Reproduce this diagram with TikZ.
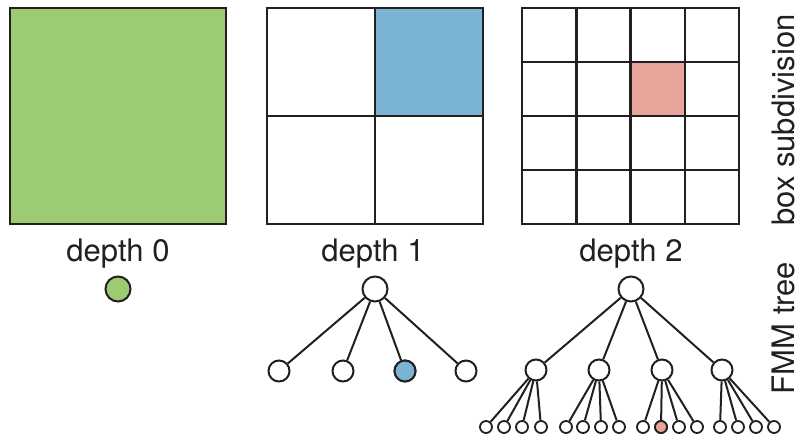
\documentclass[tikz,border=0pt]{standalone}
\usepackage{fontspec}
\setmainfont{TeX Gyre Heros}
\definecolor{ink}{HTML}{231F20}
\definecolor{boxgreen}{HTML}{9CCB72}
\definecolor{boxblue}{HTML}{7AB3D3}
\definecolor{boxpink}{HTML}{E6A49A}
\tikzset{
  gridline/.style={draw=ink, line width=2.5pt},
  treenode/.style={circle, draw=ink, fill=white, inner sep=0pt},
  rootnode/.style={treenode, line width=2pt, minimum size=25pt},
  midnode/.style={treenode, line width=2pt, minimum size=21pt},
  leafnode/.style={treenode, line width=1.8pt, minimum size=12pt},
  link/.style={draw=ink, line width=2pt},
  depthtext/.style={font=\fontsize{31}{36}\selectfont, text=ink, inner sep=0pt, anchor=base},
  sidetext/.style={depthtext, rotate=90, text depth=0pt},
}
\begin{document}
\begin{tikzpicture}[x=1pt, y=-1pt]
\useasboundingbox (0,0) rectangle (801,436);

% depth 0: the whole domain
\fill[boxgreen] (10,8) rectangle (226,224);
\draw[gridline] (10,8) rectangle (226,224);

% depth 1: four children
\fill[boxblue] (375,8) rectangle (483,116);
\draw[gridline] (267,8) rectangle (483,224);
\draw[gridline] (375,8) -- (375,224) (267,116) -- (483,116);

% depth 2: sixteen grandchildren
\fill[boxpink] (630.5,62) rectangle (684.75,116);
\draw[gridline] (522,8) rectangle (739,224);
\foreach \i in {1,2,3} {
  \draw[gridline] ({522+54.25*\i},8) -- ({522+54.25*\i},224);
  \draw[gridline] (522,{8+54*\i}) -- (739,{8+54*\i});
}

% level captions
\node[depthtext] (cap0) at (118,261) {depth 0};
\node[depthtext] (cap1) at (373,261) {depth 1};
\node[depthtext] (cap2) at (631,261) {depth 2};
\node[sidetext] (capbox) at (794,120) {box subdivision};
\node[sidetext] (captree) at (794,328) {FMM tree};

% tree at depth 0
\node[rootnode, fill=boxgreen] (t0) at (118,289) {};

% tree at depth 1
\node[rootnode] (t1) at (375,289) {};
\foreach \x [count=\k] in {279,343,405,466}
  \node[midnode] (t1c\k) at (\x,371) {};
\node[midnode, fill=boxblue] at (t1c3) {};
\foreach \k in {1,...,4}
  \draw[link] (t1) -- (t1c\k);

% tree at depth 2
\node[rootnode] (t2) at (631,289) {};
\foreach \x [count=\k] in {536,599,662,722}
  \node[midnode] (t2c\k) at (\x,370) {};
\foreach \k in {1,...,4}
  \draw[link] (t2) -- (t2c\k);
\foreach \g/\xs in {1/{486,504,522,541}, 2/{566,583,601,619},
                    3/{643,661,679,697}, 4/{720,738,756,774}} {
  \foreach \x [count=\k] in \xs {
    \node[leafnode] (t2c\g l\k) at (\x,427) {};
    \draw[link] (t2c\g) -- (t2c\g l\k);
  }
}
\node[leafnode, fill=boxpink] at (t2c3l2) {};
\end{tikzpicture}
\end{document}
